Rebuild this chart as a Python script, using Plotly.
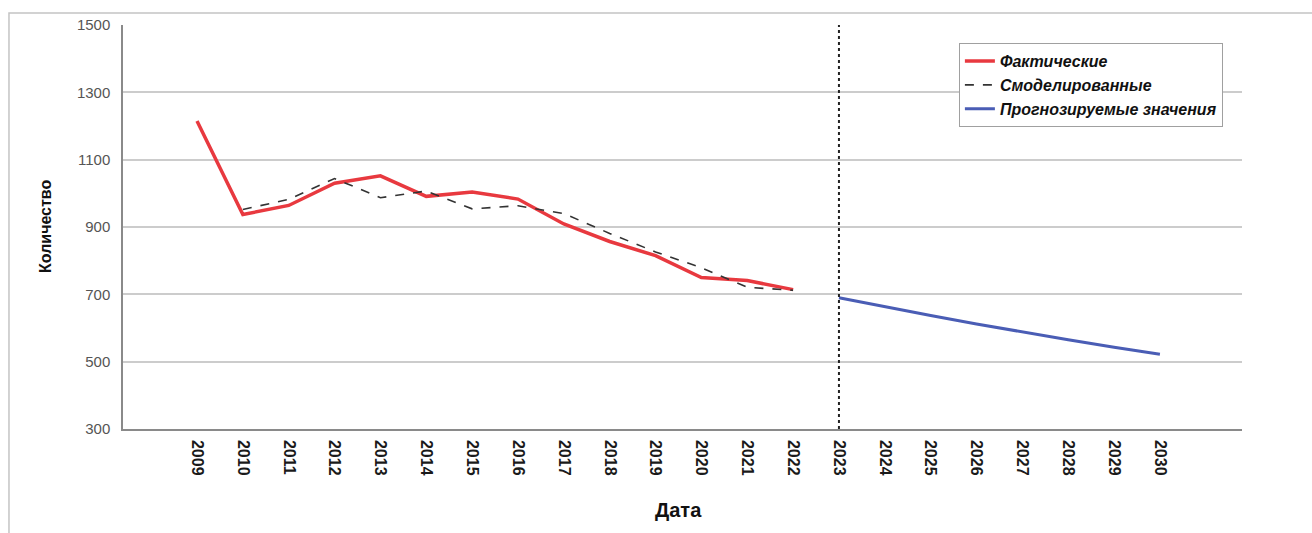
import plotly.graph_objects as go

# Годы наблюдений и прогноза
years_actual = list(range(2009, 2023))
actual = [1215, 937, 964, 1030, 1052, 991, 1004, 983, 909, 857, 815, 750, 741, 714]

years_model = list(range(2010, 2023))
modeled = [952, 982, 1044, 987, 1007, 954, 963, 940, 881, 826, 779, 721, 712]

years_forecast = list(range(2023, 2031))
forecast = [690, 663, 637, 612, 588, 565, 543, 522]

tick_years = list(range(2009, 2031))
y_ticks = [300, 500, 700, 900, 1100, 1300, 1500]
split_year = 2023

FONT = "Liberation Sans, Arial, sans-serif"

fig = go.Figure()
fig.add_trace(go.Scatter(
    x=years_actual, y=actual, mode="lines", name="Фактические",
    line=dict(color="#e8393f", width=3.5),
))
fig.add_trace(go.Scatter(
    x=years_model, y=modeled, mode="lines", name="Смоделированные",
    line=dict(color="#333333", width=1.6, dash="dash"),
))
fig.add_trace(go.Scatter(
    x=years_forecast, y=forecast, mode="lines", name="Прогнозируемые значения",
    line=dict(color="#4a5db5", width=3),
))

# Граница между фактом и прогнозом
fig.add_shape(type="line", xref="x", yref="y",
              x0=split_year, x1=split_year, y0=300, y1=1500,
              line=dict(color="#222222", width=2, dash="dot"))

# Внешняя рамка рисунка
fig.add_shape(type="rect", xref="paper", yref="paper",
              x0=-0.1019, x1=1.2, y0=-0.5, y1=1.0297,
              line=dict(color="#c4c4c4", width=1.5), layer="below")

fig.add_annotation(text="<b>Количество</b>", xref="paper", yref="paper",
                   x=-0.0697, y=0.5, textangle=-90, showarrow=False,
                   xanchor="center", yanchor="middle",
                   font=dict(family=FONT, size=16, color="#111111"))
fig.add_annotation(text="<b>Дата</b>", xref="paper", yref="paper",
                   x=0.4960, y=-0.2, showarrow=False,
                   xanchor="center", yanchor="middle",
                   font=dict(family=FONT, size=20, color="#111111"))

fig.update_layout(
    width=1312, height=533,
    margin=dict(l=123, r=70, t=25, b=104),
    paper_bgcolor="white", plot_bgcolor="white",
    font=dict(family=FONT),
    showlegend=True,
    legend=dict(
        x=0.747, y=0.955, xanchor="left", yanchor="top",
        bgcolor="white", bordercolor="#a0a0a0", borderwidth=1,
        font=dict(family=FONT, size=16, color="#111111"),
        itemwidth=30, tracegroupgap=0,
    ),
)
fig.for_each_trace(lambda t: t.update(name="<b><i>" + t.name + "</i></b>"))

fig.update_xaxes(
    range=[2007.386, 2031.79],
    tickmode="array", tickvals=tick_years,
    ticktext=["<b>" + str(y) + "</b>" for y in tick_years],
    tickangle=90, ticklabelstandoff=6,
    tickfont=dict(family=FONT, size=16, color="#1a1a1a"),
    showgrid=False, zeroline=False,
    showline=True, linecolor="#8a8a8a", linewidth=1.5,
)
fig.update_yaxes(
    range=[300, 1500],
    tickmode="array", tickvals=y_ticks,
    tickfont=dict(family=FONT, size=15, color="#555555"),
    ticklabelstandoff=8,
    showgrid=True, gridcolor="#cccccc", gridwidth=1.5, zeroline=False,
    showline=True, linecolor="#8a8a8a", linewidth=1.5,
)

fig.write_html("out.html")
